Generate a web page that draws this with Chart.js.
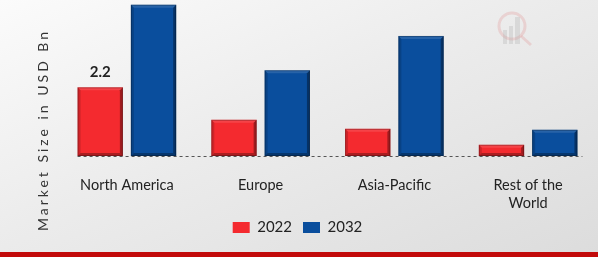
<!DOCTYPE html>
<html>
<head>
<meta charset="utf-8">
<script src="https://cdn.jsdelivr.net/npm/chart.js@4/dist/chart.umd.min.js"></script>
<style>
  html, body { margin: 0; padding: 0; }
  #wrap {
    position: relative; width: 598px; height: 257px; overflow: hidden;
    background: linear-gradient(to bottom right, #fbfbfb 0%, #ececec 45%, #dcdcdc 100%);
  }
  #redbar { position: absolute; left: 0; bottom: 0; width: 598px; height: 5px; background: #c20a0a; }
  canvas { display: block; }
</style>
</head>
<body>
<div id="wrap">
  <canvas id="chart" width="598" height="257"></canvas>
  <div id="redbar"></div>
</div>
<script>
// 数据
const regions = ['North America', 'Europe', 'Asia-Pacific', ['Rest of the', 'World']];
const years = ['2022', '2032'];
const values2022 = [2.2, 1.16, 0.87, 0.36];
const values2032 = [4.85, 2.75, 3.85, 0.84];
const labelled = { dataset: 0, index: 0, text: '2.2' };

const RED = '#f42a2f';
const BLUE = '#0a4e9d';
const FONT = 'Lato, "DejaVu Sans", sans-serif';

// 斜面效果 + 虚线基线 + 数值标签 + 水印 + 纵轴标题
const decorPlugin = {
  id: 'decor',
  beforeDatasetsDraw(chart) {
    const ctx = chart.ctx;
    // 水印
    ctx.save();
    ctx.strokeStyle = 'rgba(225,120,120,0.22)';
    ctx.lineWidth = 3;
    ctx.beginPath(); ctx.arc(512, 26, 13, 0, Math.PI * 2); ctx.stroke();
    ctx.beginPath(); ctx.moveTo(521, 36); ctx.lineTo(531, 45); ctx.stroke();
    ctx.fillStyle = 'rgba(170,170,170,0.28)';
    ctx.fillRect(503, 30, 4, 14); ctx.fillRect(509, 26, 4, 18); ctx.fillRect(515, 17, 5, 27);
    ctx.restore();
  },
  afterDatasetsDraw(chart) {
    const ctx = chart.ctx;
    ctx.save();
    chart.data.datasets.forEach((ds, di) => {
      chart.getDatasetMeta(di).data.forEach(bar => {
        const l = bar.x - bar.width / 2, r = bar.x + bar.width / 2;
        const t = bar.y, b = bar.base;
        const e = Math.min(3, (b - t) / 3);
        // 右侧和底部暗边
        ctx.fillStyle = 'rgba(0,0,0,0.35)';
        ctx.beginPath();
        ctx.moveTo(r, t); ctx.lineTo(r, b); ctx.lineTo(r - e, b - e); ctx.lineTo(r - e, t + e);
        ctx.closePath(); ctx.fill();
        ctx.fillStyle = 'rgba(0,0,0,0.3)';
        ctx.beginPath();
        ctx.moveTo(l, b); ctx.lineTo(r, b); ctx.lineTo(r - e, b - e); ctx.lineTo(l + e, b - e);
        ctx.closePath(); ctx.fill();
        // 左侧和顶部亮边
        ctx.fillStyle = 'rgba(255,255,255,0.12)';
        ctx.beginPath();
        ctx.moveTo(l, t); ctx.lineTo(r, t); ctx.lineTo(r - e, t + e); ctx.lineTo(l + e, t + e);
        ctx.closePath(); ctx.fill();
        ctx.fillStyle = 'rgba(0,0,0,0.15)';
        ctx.beginPath();
        ctx.moveTo(l, t); ctx.lineTo(l + e, t + e); ctx.lineTo(l + e, b - e); ctx.lineTo(l, b);
        ctx.closePath(); ctx.fill();
        ctx.strokeStyle = 'rgba(0,0,0,0.25)';
        ctx.lineWidth = 1;
        ctx.strokeRect(l + 0.5, t + 0.5, r - l - 1, b - t - 1);
      });
    });

    // 虚线基线
    const first = chart.getDatasetMeta(0).data[0];
    const last = chart.getDatasetMeta(1).data[values2032.length - 1];
    const y0 = Math.round(chart.scales.y.getPixelForValue(0)) + 0.5;
    ctx.strokeStyle = '#555';
    ctx.lineWidth = 1;
    ctx.setLineDash([3, 3]);
    ctx.beginPath();
    ctx.moveTo(first.x - first.width / 2, y0);
    ctx.lineTo(last.x + last.width / 2 + 5, y0);
    ctx.stroke();
    ctx.setLineDash([]);

    // 数值标签
    const bar = chart.getDatasetMeta(labelled.dataset).data[labelled.index];
    ctx.fillStyle = '#222';
    ctx.font = 'bold 15px ' + FONT;
    ctx.textAlign = 'center';
    ctx.textBaseline = 'bottom';
    ctx.fillText(labelled.text, bar.x, bar.y - 8);

    // 纵轴标题
    ctx.translate(43, 130);
    ctx.rotate(-Math.PI / 2);
    ctx.font = '14px ' + FONT;
    ctx.letterSpacing = '3px';
    ctx.fillStyle = '#333';
    ctx.textBaseline = 'middle';
    ctx.fillText('Market Size in USD Bn', 0, 0);
    ctx.restore();
  }
};

new Chart(document.getElementById('chart'), {
  type: 'bar',
  data: {
    labels: regions,
    datasets: [
      { label: years[0], data: values2022, backgroundColor: RED, borderWidth: 0 },
      { label: years[1], data: values2032, backgroundColor: BLUE, borderWidth: 0 }
    ]
  },
  options: {
    responsive: false,
    animation: false,
    events: [],
    layout: { padding: { left: 0, right: 3, top: 0, bottom: 12 } },
    datasets: { bar: { categoryPercentage: 0.797, barPercentage: 0.85 } },
    plugins: {
      legend: {
        position: 'bottom',
        labels: {
          boxWidth: 17, boxHeight: 11, padding: 11,
          color: '#222',
          font: { family: FONT, size: 15 }
        }
      },
      tooltip: { enabled: false }
    },
    scales: {
      y: {
        min: 0, max: 5,
        ticks: { display: false },
        grid: { display: false },
        border: { display: false },
        afterFit(scale) { scale.width = 60; }
      },
      x: {
        grid: { display: false },
        border: { display: false },
        ticks: {
          color: '#222', padding: 13,
          font: { family: FONT, size: 14.5 }
        },
        afterFit(scale) { scale.height = 53; }
      }
    }
  },
  plugins: [decorPlugin]
});
</script>
</body>
</html>
